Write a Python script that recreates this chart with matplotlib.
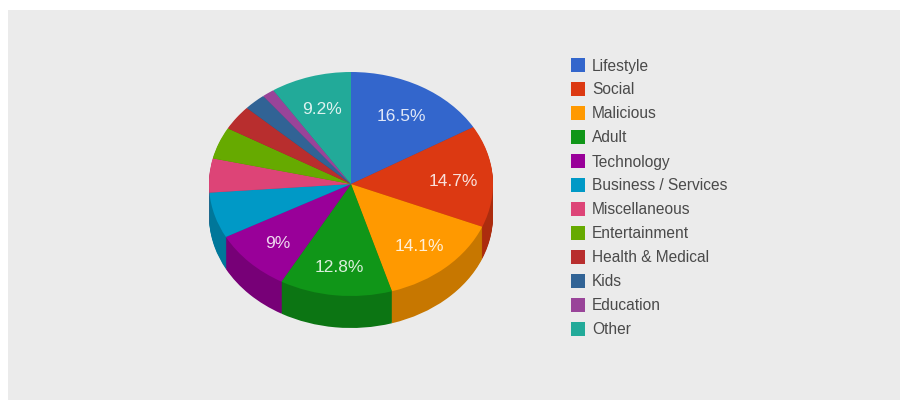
import matplotlib
matplotlib.use("Agg")
import matplotlib.pyplot as plt
from matplotlib.patches import Rectangle
import numpy as np

plt.rcParams['font.family'] = ['Liberation Sans', 'DejaVu Sans']

# categories and shares (%)
categorias = ["Lifestyle", "Social", "Malicious", "Adult", "Technology", "Business / Services",
              "Miscellaneous", "Entertainment", "Health & Medical", "Kids", "Education", "Other"]
valores = [16.5, 14.7, 14.1, 12.8, 9.0, 6.6, 4.9, 4.6, 3.6, 2.5, 1.4, 9.2]
rotulos = ["16.5%", "14.7%", "14.1%", "12.8%", "9%", "", "", "", "", "", "", "9.2%"]
cores = ["#3366cc", "#dc3912", "#ff9900", "#109618", "#990099", "#0099c6",
         "#dd4477", "#66aa00", "#b82e2e", "#316395", "#994499", "#22aa99"]

W, H = 900, 400
CX, CY = 351, 184      # centre of the top face, px
RX, RY = 142, 112      # radii of the top face, px
PROF = 32              # height of the pie side, px
FUNDO = "#ebebeb"


def escurecer(cor, f=0.78):
    rgb = np.array(matplotlib.colors.to_rgb(cor))
    return tuple(rgb * f)


fig = plt.figure(figsize=(W / 100, H / 100), dpi=100, facecolor="white")

# background panel + legend, in pixel coordinates
ax_bg = fig.add_axes([0, 0, 1, 1])
ax_bg.set_xlim(0, W)
ax_bg.set_ylim(H, 0)
ax_bg.axis("off")
ax_bg.add_patch(Rectangle((8, 10), W - 8, H - 10, facecolor=FUNDO, edgecolor="none"))

y_leg = 65
for nome, cor in zip(categorias, cores):
    ax_bg.add_patch(Rectangle((571, y_leg - 7), 14, 14, facecolor=cor, edgecolor="none"))
    ax_bg.text(592, y_leg + 1, nome, fontsize=11.2, color="#4a4a4a", va="center", ha="left")
    y_leg += 24

# pie axes: unit circle squashed onto the ellipse
ax = fig.add_axes([(CX - RX) / W, 1 - (CY + RY) / H, 2 * RX / W, 2 * RY / H])
ax.patch.set_alpha(0)

# side of the pie: darker copies stacked from the bottom up
cores_lado = [escurecer(c) for c in cores]
for p in range(PROF, 0, -1):
    ax.pie(valores, colors=cores_lado, startangle=90, counterclock=False, radius=1,
           center=(0, -p / RY), frame=True)

fatias, _ = ax.pie(valores, colors=cores, startangle=90, counterclock=False, radius=1,
                   center=(0, 0), frame=True)

for fatia, rotulo in zip(fatias, rotulos):
    if rotulo:
        ang = np.radians((fatia.theta1 + fatia.theta2) / 2)
        ax.text(0.72 * np.cos(ang), 0.72 * np.sin(ang) - 3 / RY, rotulo, fontsize=12.5,
                color="white", alpha=0.85, ha="center", va="center")

ax.set_aspect("auto")
ax.set_xlim(-1, 1)
ax.set_ylim(-1, 1)
ax.set_xticks([])
ax.set_yticks([])
ax.axis("off")
for a in ax.patches:
    a.set_clip_on(False)

fig.savefig("out.png", dpi=100, facecolor="white")
